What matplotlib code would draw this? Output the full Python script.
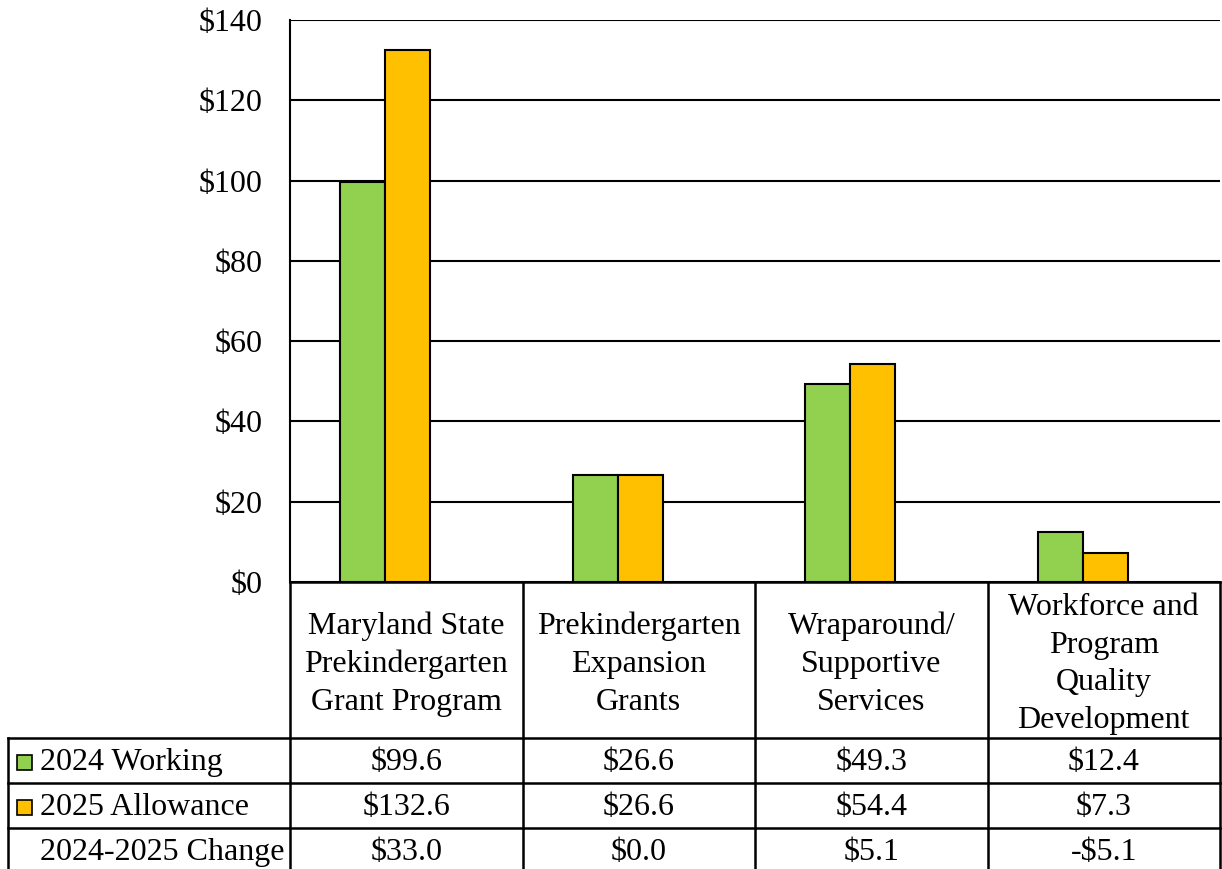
import matplotlib
matplotlib.use('agg')
import matplotlib.pyplot as plt
import numpy as np

categories = ['Maryland State\nPrekindergarten\nGrant Program',
              'Prekindergarten\nExpansion\nGrants',
              'Wraparound/\nSupportive\nServices',
              'Workforce and\nProgram\nQuality\nDevelopment']
working_2024 = [99.6, 26.6, 49.3, 12.4]
allowance_2025 = [132.6, 26.6, 54.4, 7.3]
change = [33.0, 0.0, 5.1, -5.1]
series_names = ['2024 Working', '2025 Allowance', '2024-2025 Change']
yticks = [0, 20, 40, 60, 80, 100, 120, 140]

GREEN = '#92D050'
ORANGE = '#FFC000'
FONT = 'Liberation Serif'
FS = 23

plt.rcParams['font.family'] = [FONT, 'DejaVu Serif']

W, H = 1222, 869
fig = plt.figure(figsize=(W / 100, H / 100), dpi=100)

# plot area in pixels
px0, px1 = 290, 1220
py0, py1 = 20, 582
ax = fig.add_axes([px0 / W, 1 - py1 / H, (px1 - px0) / W, (py1 - py0) / H])

x = np.arange(len(categories))
bw = 0.194
shift = -0.09
ax.bar(x + shift - bw / 2, working_2024, bw, color=GREEN, edgecolor='black', linewidth=1.5, zorder=3)
ax.bar(x + shift + bw / 2, allowance_2025, bw, color=ORANGE, edgecolor='black', linewidth=1.5, zorder=3)
ax.set_xlim(-0.5, len(categories) - 0.5)
ax.set_ylim(0, 140)
ax.set_yticks(yticks)
ax.set_yticklabels(['${}'.format(v) for v in yticks], fontsize=FS)
ax.tick_params(axis='y', length=0, pad=20)
ax.set_xticks([])
ax.grid(axis='y', color='black', linewidth=1.5, zorder=0)
for s in ['top', 'right', 'bottom']:
    ax.spines[s].set_visible(False)
ax.spines['left'].set_linewidth(1.5)

# data table drawn in pixel coordinates
tab = fig.add_axes([0, 0, 1, 1], facecolor='none')
tab.set_xlim(0, W)
tab.set_ylim(H, 0)
tab.axis('off')

col_w = (px1 - px0) / len(categories)
cols = [px0 + i * col_w for i in range(len(categories) + 1)]
header_bottom = 738
row_h = 45
rows = [header_bottom + i * row_h for i in range(4)]
left = 8
lw = 1.8

tab.plot([px0, px1], [py1, py1], color='black', lw=lw)
for y in rows[:3]:
    tab.plot([left, px1], [y, y], color='black', lw=lw)
tab.plot([left, left], [header_bottom, H], color='black', lw=lw)
for c in cols:
    tab.plot([c, c], [py1, H], color='black', lw=lw)

for i, cat in enumerate(categories):
    tab.text((cols[i] + cols[i + 1]) / 2, (py1 + header_bottom) / 2 + 4, cat,
             ha='center', va='center', fontsize=FS, linespacing=1.4)


def fmt(v):
    return '-${:.1f}'.format(-v) if v < 0 else '${:.1f}'.format(v)


for r, (name, vals) in enumerate(zip(series_names, [working_2024, allowance_2025, change])):
    yc = rows[r] + row_h / 2 + 2
    tab.text(40, yc, name, ha='left', va='center', fontsize=FS)
    if r < 2:
        tab.add_patch(plt.Rectangle((17, yc - 8), 15, 15,
                                    facecolor=[GREEN, ORANGE][r], edgecolor='black', lw=1.2))
    for i, v in enumerate(vals):
        tab.text((cols[i] + cols[i + 1]) / 2, yc, fmt(v), ha='center', va='center', fontsize=FS)

fig.savefig('out.png', dpi=100)
